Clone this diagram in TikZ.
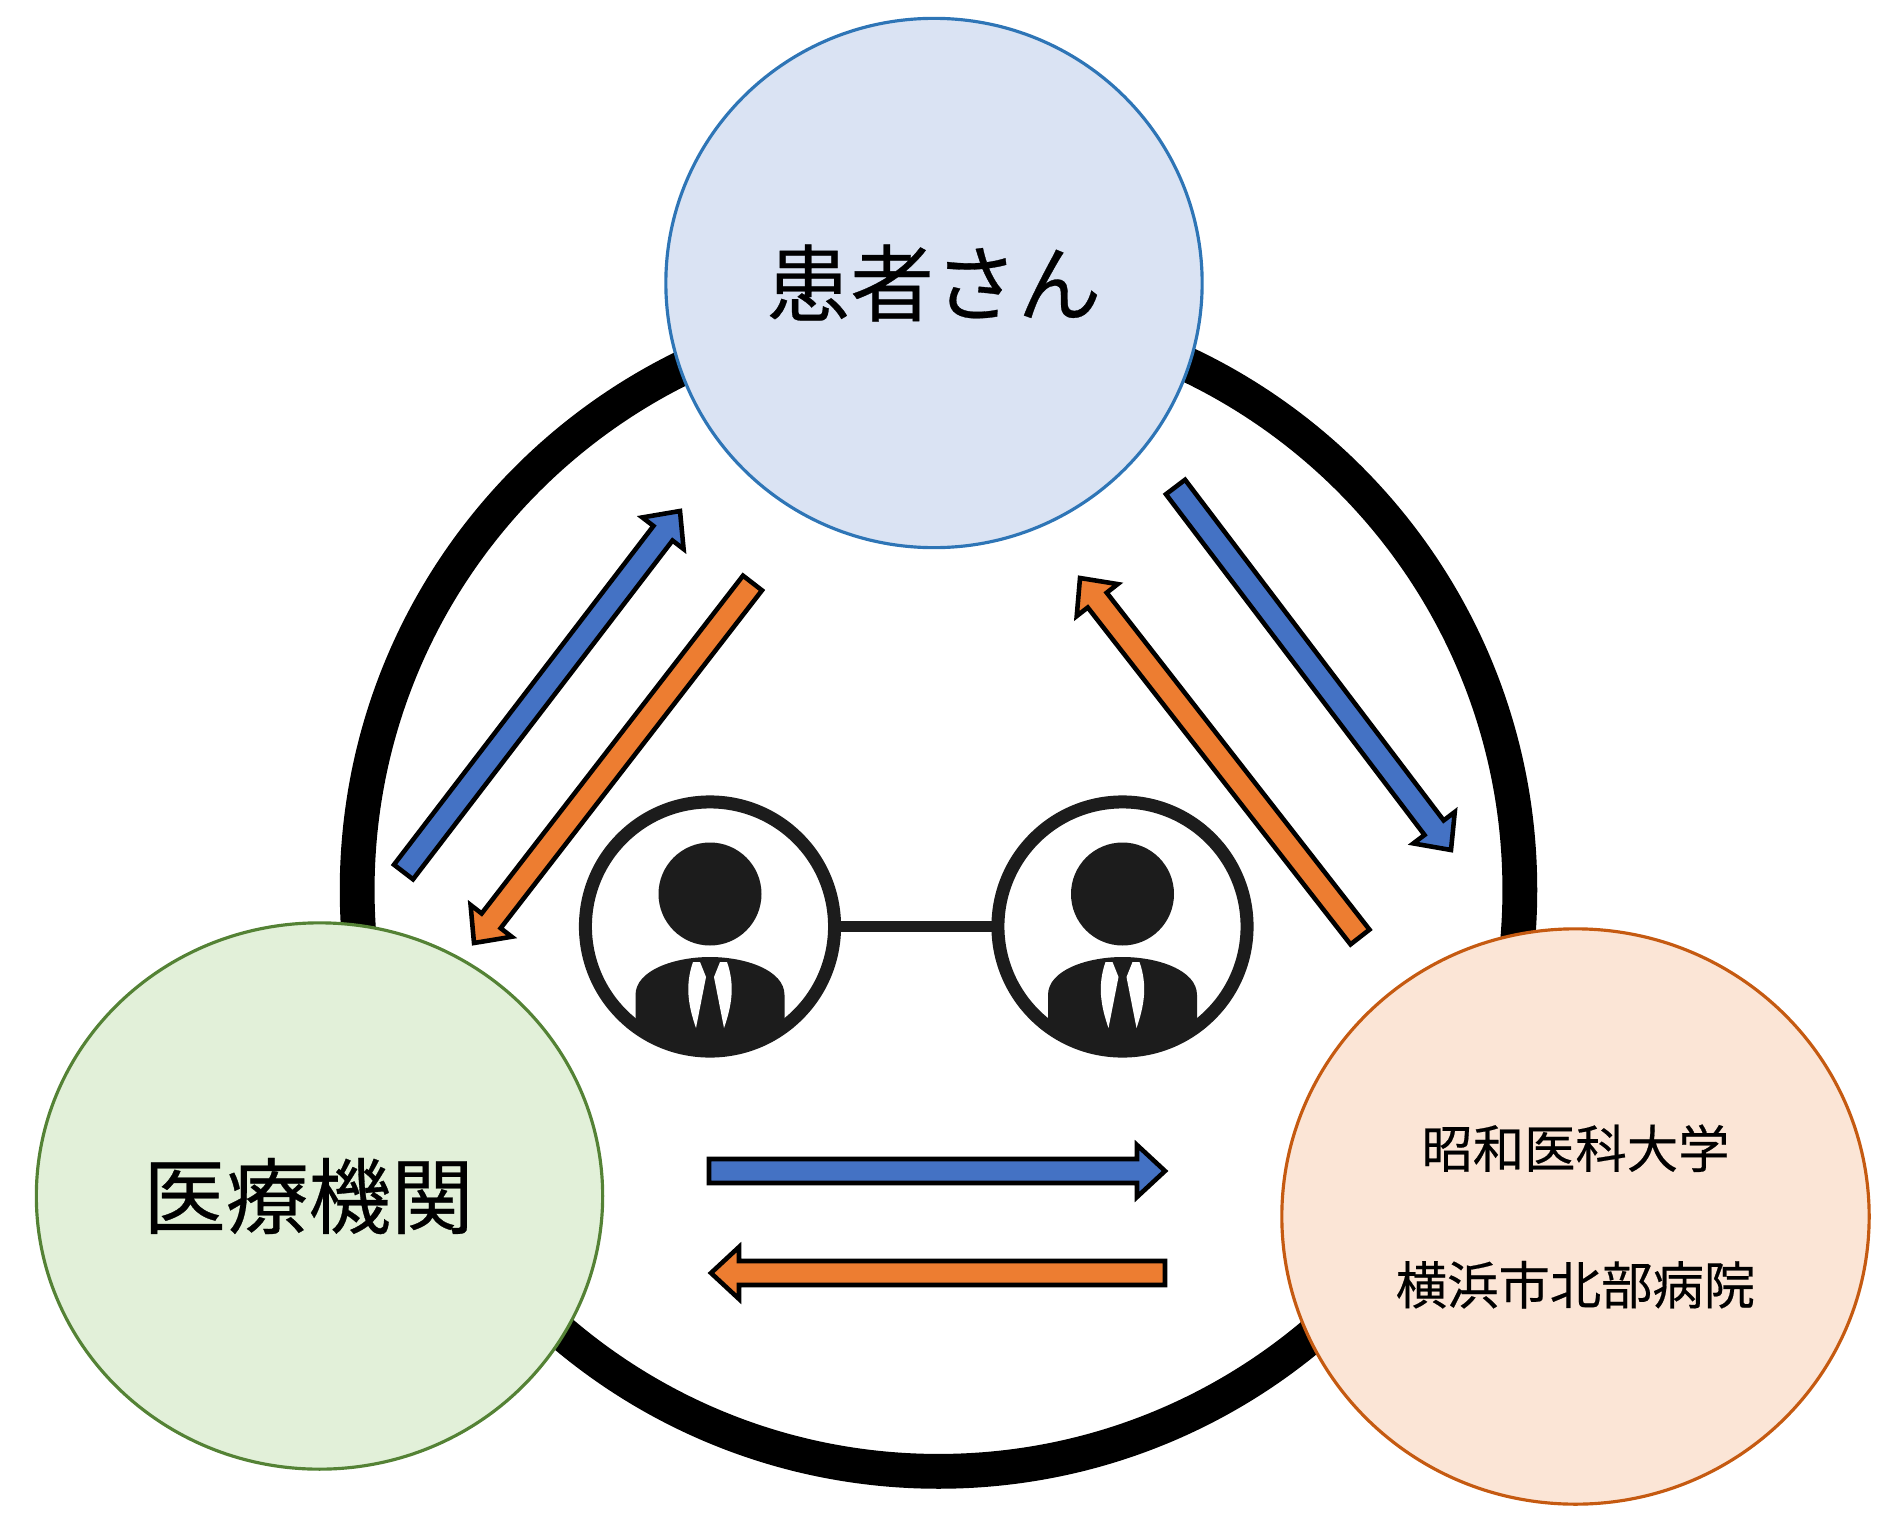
\documentclass[tikz,border=0pt]{standalone}
\usepackage{fontspec}
\usetikzlibrary{calc,shapes.geometric}
\newfontfamily\jpfont{Noto Sans CJK JP}[FakeBold=0.35]
\definecolor{topfill}{HTML}{DAE3F3}
\definecolor{topline}{HTML}{2E75B6}
\definecolor{leftfill}{HTML}{E2F0D9}
\definecolor{leftline}{HTML}{548235}
\definecolor{rightfill}{HTML}{FBE5D6}
\definecolor{rightline}{HTML}{C55A11}
\definecolor{arrowblue}{HTML}{4472C4}
\definecolor{arroworange}{HTML}{ED7D31}
\definecolor{iconblack}{HTML}{1C1C1C}
\tikzset{
  party/.style={ellipse, draw, line width=0.9pt, inner sep=0pt, outer sep=0pt, align=center, font=\jpfont\fontsize{23.8pt}{28pt}\selectfont},
  lens/.style={circle, draw=iconblack, line width=3.7pt, fill=white, minimum size=2.49cm, inner sep=0pt, outer sep=0pt},
  block/.style={draw=black, line width=1.3pt, to path={
    -- ($(\tikztostart)!1.2mm!90:(\tikztotarget)$)
    -- ($(\tikztotarget)!2.8mm!(\tikztostart)!1.2mm!-90:(\tikztostart)$)
    -- ($(\tikztotarget)!2.8mm!(\tikztostart)!2.6mm!-90:(\tikztostart)$)
    -- (\tikztotarget)
    -- ($(\tikztotarget)!2.8mm!(\tikztostart)!2.6mm!90:(\tikztostart)$)
    -- ($(\tikztotarget)!2.8mm!(\tikztostart)!1.2mm!90:(\tikztostart)$)
    -- ($(\tikztostart)!1.2mm!-90:(\tikztotarget)$)
    -- cycle}},
  bluearrow/.style={block, fill=arrowblue},
  orangearrow/.style={block, fill=arroworange}
}
\newcommand{\personicon}[1]{
\fill[iconblack] (#1,894) circle (51.5);
\begin{scope}
\clip (#1,926.5) circle (124.5);
\fill[iconblack] ($(#1,1070)+(-74.5,0)$) -- ($(#1,995)+(-74.5,0)$) .. controls ($(#1,970)+(-74.5,0)$) and ($(#1,957)+(-35,0)$) .. (#1,957) .. controls ($(#1,957)+(35,0)$) and ($(#1,970)+(74.5,0)$) .. ($(#1,995)+(74.5,0)$) -- ($(#1,1070)+(74.5,0)$) -- cycle;
\end{scope}
\fill[white] ($(#1,1028)+(-14,0)$) .. controls ($(#1,1005)+(-22,0)$) and ($(#1,985)+(-25,0)$) .. ($(#1,962)+(-17,0)$) .. controls ($(#1,962)+(-14,0)$) and ($(#1,962)+(-12,0)$) .. ($(#1,962)+(-10,0)$) -- ($(#1,977)+(-4,0)$) -- cycle;
\fill[white] ($(#1,1028)+(14,0)$) .. controls ($(#1,1005)+(22,0)$) and ($(#1,985)+(25,0)$) .. ($(#1,962)+(17,0)$) .. controls ($(#1,962)+(14,0)$) and ($(#1,962)+(12,0)$) .. ($(#1,962)+(10,0)$) -- ($(#1,977)+(4,0)$) -- cycle;
}

\begin{document}
\begin{tikzpicture}[x=0.01cm, y=-0.01cm]
\useasboundingbox (0,0) rectangle (1887,1524);
\node[circle, draw=black, line width=9.9pt, outer sep=0pt, inner sep=0pt, minimum size=11.62cm] (cycle) at (938.5,890){};

\node[party, draw=topline, fill=topfill, minimum width=5.36cm, minimum height=5.29cm] (patient) at (934,283){患者さん};
\node[party, draw=leftline, fill=leftfill, minimum width=5.66cm, minimum height=5.46cm] (clinic) at (319.5,1196){};
\node[inner sep=0pt, font=\jpfont\fontsize{23.5pt}{28pt}\selectfont] (cliniclabel) at (308.5,1196){医療機関};
\node[party, draw=rightline, fill=rightfill, minimum width=5.87cm, minimum height=5.75cm, font=\jpfont\fontsize{14.6pt}{38.8pt}\selectfont] (hospital) at (1575.5,1216.5){昭和医科大学\\横浜市北部病院};

\node[lens] (lensl) at (710,926.5){};
\node[lens] (lensr) at (1122.5,926.5){};
\draw[iconblack, line width=3.4pt] (lensl) -- (lensr);
\personicon{710}
\personicon{1122.5}

\coordinate (bluel1) at (403.5,872);
\coordinate (bluel2) at (680,511);
\coordinate (orangel1) at (752.5,583);
\coordinate (orangel2) at (474,943);
\coordinate (bluer1) at (1175.5,487);
\coordinate (bluer2) at (1451,850);
\coordinate (oranger1) at (1360,937);
\coordinate (oranger2) at (1080,578);
\coordinate (blueb1) at (709,1171);
\coordinate (blueb2) at (1165,1171);
\coordinate (orangeb1) at (1165,1273);
\coordinate (orangeb2) at (711,1273);
\draw[bluearrow] (bluel1) to (bluel2);
\draw[orangearrow] (orangel1) to (orangel2);
\draw[bluearrow] (bluer1) to (bluer2);
\draw[orangearrow] (oranger1) to (oranger2);
\draw[bluearrow] (blueb1) to (blueb2);
\draw[orangearrow] (orangeb1) to (orangeb2);
\end{tikzpicture}
\end{document}
